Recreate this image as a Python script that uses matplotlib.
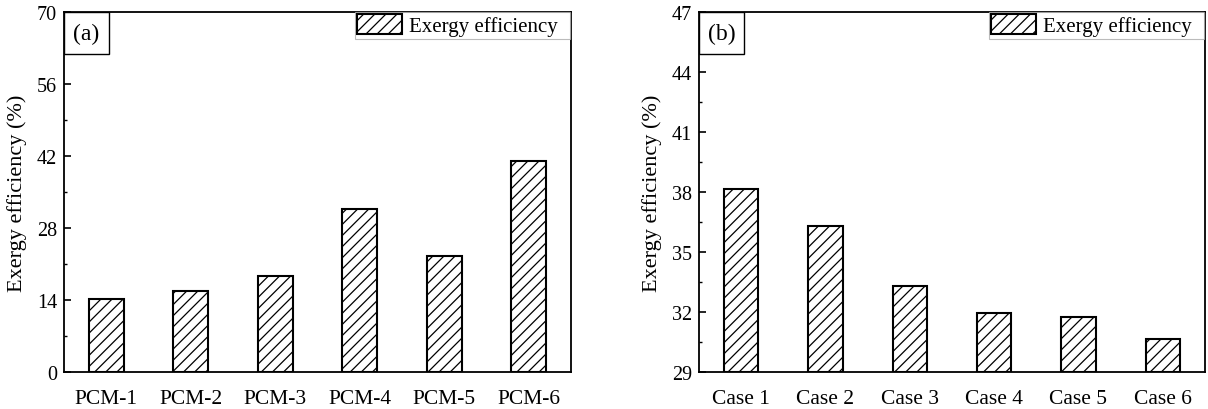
import numpy as np
import matplotlib.pyplot as plt
from matplotlib.patches import Rectangle

plt.rcParams['font.family'] = ['Liberation Serif', 'DejaVu Serif']
plt.rcParams['hatch.linewidth'] = 0.9

# Datos
pcm_labels = ['PCM-1', 'PCM-2', 'PCM-3', 'PCM-4', 'PCM-5', 'PCM-6']
pcm_values = [14.1, 15.8, 18.7, 31.7, 22.6, 41.1]

case_labels = ['Case 1', 'Case 2', 'Case 3', 'Case 4', 'Case 5', 'Case 6']
case_values = [38.13, 36.30, 33.30, 31.95, 31.73, 30.64]

a_ticks = [0, 14, 28, 42, 56, 70]
b_ticks = [29, 32, 35, 38, 41, 44, 47]


def draw_panel(ax, labels, values, yticks, tag, ylim):
    x = np.arange(len(labels))
    ax.bar(x, np.array(values) - ylim[0], bottom=ylim[0], width=0.41,
           color='white', edgecolor='black', linewidth=1.5, hatch='///',
           label='Exergy efficiency', zorder=2)
    ax.set_xlim(-0.5, 5.5)
    ax.set_ylim(*ylim)
    ax.set_xticks(x)
    ax.set_xticklabels(labels, fontsize=15.5)
    ax.tick_params(axis='x', length=0, pad=12.5)
    ax.set_yticks(yticks)
    ax.set_yticklabels([str(t) for t in yticks], fontsize=14.5)
    step = yticks[1] - yticks[0]
    ax.set_yticks(np.arange(yticks[0] + step / 2, yticks[-1], step), minor=True)
    ax.tick_params(axis='y', which='major', direction='in', length=5, width=1.2, pad=5)
    ax.tick_params(axis='y', which='minor', direction='in', length=2.5, width=1.0)
    for s in ax.spines.values():
        s.set_linewidth(1.3)
    ax.set_ylabel('Exergy efficiency (%)', fontsize=16)
    ax.yaxis.set_label_coords(-0.073, 0.5)

    # caja de la etiqueta del panel
    ax.add_patch(Rectangle((0, 0.883), 0.089, 0.117, transform=ax.transAxes,
                           facecolor='white', edgecolor='black', linewidth=1.0,
                           zorder=3))
    ax.text(0.0445, 0.94, tag, transform=ax.transAxes, ha='center', va='center',
            fontsize=17, zorder=4)

    leg = ax.legend(loc='upper left', bbox_to_anchor=(0.574, 0.9285, 0.424, 0.0715),
                    mode='expand', fontsize=15, frameon=True, fancybox=False,
                    borderaxespad=0.0, borderpad=0.1, handlelength=2.16,
                    handleheight=1.1, handletextpad=0.33)
    leg.get_frame().set_edgecolor('#aaaaaa')
    leg.get_frame().set_linewidth(0.8)


fig = plt.figure(figsize=(12.08, 4.10), dpi=100)
ax1 = fig.add_axes([0.053, 0.091, 0.4197, 0.8766])
ax2 = fig.add_axes([0.5786, 0.091, 0.4189, 0.8766])

draw_panel(ax1, pcm_labels, pcm_values, a_ticks, '(a)', (0, 70))
draw_panel(ax2, case_labels, case_values, b_ticks, '(b)', (29, 47))

fig.savefig('out.png', dpi=100)
